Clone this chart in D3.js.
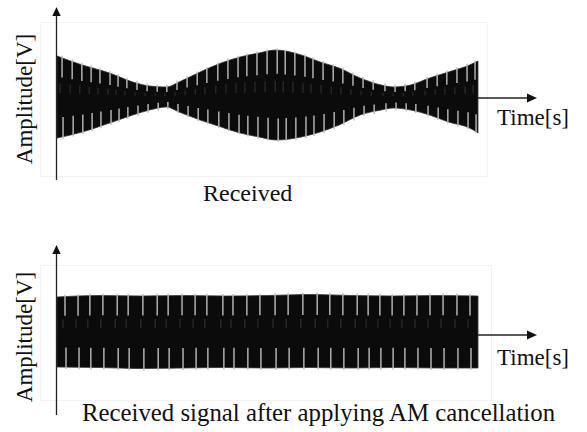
<!DOCTYPE html>
<html>
<head>
<meta charset="utf-8">
<script src="https://cdn.jsdelivr.net/npm/d3@7"></script>
<style>
  body { margin: 0; background: #fff; }
</style>
</head>
<body>
<div id="chart"></div>
<script>
// 1: DATA (time in arbitrary units 0..100)
const yLabel = "Amplitude[V]";
const xLabel = "Time[s]";
const captionTop = "Received";
const captionBottom = "Received signal after applying AM cancellation";

// received signal envelope
const timeTop  = [0, 6, 12.5, 18, 22, 26, 29, 34, 39, 43.5, 48, 52, 58, 62.5, 67, 72, 77, 80, 84, 88.5, 93, 98, 100];
const upperTop = [0.82, 0.64, 0.48, 0.30, 0.22, 0.20, 0.30, 0.50, 0.68, 0.80, 0.88, 0.94, 0.84, 0.70, 0.58, 0.38, 0.24, 0.20, 0.24, 0.38, 0.50, 0.64, 0.72];
const lowerTop = [-0.82, -0.70, -0.52, -0.36, -0.26, -0.20, -0.30, -0.46, -0.60, -0.72, -0.80, -0.86, -0.80, -0.70, -0.56, -0.36, -0.26, -0.22, -0.26, -0.36, -0.50, -0.62, -0.72];

// after AM cancellation
const timeBottom  = [0, 10, 20, 30, 40, 50, 60, 70, 80, 90, 100];
const upperBottom = [0.69, 0.72, 0.71, 0.72, 0.71, 0.72, 0.74, 0.72, 0.71, 0.72, 0.71];
const lowerBottom = [-0.71, -0.72, -0.74, -0.73, -0.72, -0.73, -0.72, -0.73, -0.72, -0.73, -0.73];

// light carrier gaps seen at the edges of the black band
const gapsTop = [1.2, 3.6, 5.9, 8.1, 10.2, 12.6, 14.5, 16.6, 19.0, 21.4, 23.8, 26.1, 28.5, 30.9, 33.3, 35.6, 38.2, 40.6, 43.0, 45.1,
  47.5, 49.9, 52.3, 54.2, 56.5, 58.9, 60.8, 63.2, 65.6, 67.9, 70.3, 72.7, 75.1, 77.9, 80.3, 82.7, 85.0, 87.9, 90.3, 92.6, 95.0, 97.4, 99.3];
const gapsBottom = [1.9, 5.0, 7.8, 10.9, 14.3, 16.9, 20.4, 23.8, 26.4, 29.7, 32.8, 35.6, 39.4, 41.8, 45.1, 48.2, 51.8, 54.9,
  58.4, 61.8, 64.8, 67.9, 71.3, 73.9, 76.7, 79.6, 82.4, 85.5, 88.6, 91.7, 95.0, 98.1];

// 2: SVG
const W = 587, H = 432;
const FONT = "'Liberation Serif', 'Times New Roman', Times, serif";
const svg = d3.select("#chart").append("svg")
  .attr("width", W).attr("height", H);

const x = d3.scaleLinear().domain([0, 100]).range([57, 478]);

function drawPanel(cfg) {
  const g = svg.append("g");
  const y = d3.scaleLinear().domain([-1, 1]).range([cfg.cy + 50, cfg.cy - 50]);

  // faint frame of the original plot
  g.append("rect")
    .attr("x", 40.5).attr("y", cfg.frameTop + 0.5)
    .attr("width", cfg.frameW).attr("height", cfg.frameH)
    .attr("fill", "none").attr("stroke", "#f3f3f3");

  const data = cfg.time.map((t, i) => ({ t, hi: cfg.upper[i], lo: cfg.lower[i] }));

  // time axis (under the signal)
  g.append("line")
    .attr("x1", 57).attr("x2", 530)
    .attr("y1", cfg.axisY).attr("y2", cfg.axisY)
    .attr("stroke", "#222").attr("stroke-width", 1.3);
  g.append("path")
    .attr("d", `M537,${cfg.axisY} L527,${cfg.axisY - 4.5} L527,${cfg.axisY + 4.5} Z`)
    .attr("fill", "#111");

  // black signal band
  const area = d3.area()
    .x(d => x(d.t))
    .y0(d => y(d.lo))
    .y1(d => y(d.hi))
    .curve(d3.curveMonotoneX);

  g.append("path")
    .datum(data)
    .attr("d", area)
    .attr("fill", "#0b0b0b")
    .attr("stroke", "#333")
    .attr("stroke-width", 0.8);

  // carrier gaps
  const hiAt = d3.scaleLinear().domain(cfg.time).range(cfg.upper);
  const loAt = d3.scaleLinear().domain(cfg.time).range(cfg.lower);

  g.selectAll(".gapTop").data(cfg.gaps).join("line")
    .attr("x1", d => x(d)).attr("x2", d => x(d))
    .attr("y1", d => y(hiAt(d)) - 2)
    .attr("y2", d => y(hiAt(d) * cfg.depth))
    .attr("stroke", "#bdbdbd").attr("stroke-width", 1.4);

  g.selectAll(".gapBot").data(cfg.gaps).join("line")
    .attr("x1", d => x(d) + 1).attr("x2", d => x(d) + 1)
    .attr("y1", d => y(loAt(d)) + 2)
    .attr("y2", d => y(loAt(d) * cfg.depth))
    .attr("stroke", "#bdbdbd").attr("stroke-width", 1.4);

  g.selectAll(".gapMid").data(cfg.gaps).join("line")
    .attr("x1", d => x(d) - 2).attr("x2", d => x(d) - 2)
    .attr("y1", d => y(hiAt(d) * 0.35))
    .attr("y2", d => y(hiAt(d) * 0.1))
    .attr("stroke", "#333").attr("stroke-width", 1);

  // amplitude axis
  g.append("line")
    .attr("x1", 56.5).attr("x2", 56.5)
    .attr("y1", cfg.axisBottom).attr("y2", cfg.arrowTip + 7)
    .attr("stroke", "#222").attr("stroke-width", 1.3);
  g.append("path")
    .attr("d", `M56.5,${cfg.arrowTip} L52.3,${cfg.arrowTip + 9} L60.7,${cfg.arrowTip + 9} Z`)
    .attr("fill", "#111");

  // labels
  g.append("text")
    .attr("transform", `translate(32,${cfg.labelY}) rotate(-90)`)
    .attr("text-anchor", "middle")
    .style("font-family", FONT).style("font-size", "23px").style("fill", "#111")
    .text(yLabel);

  g.append("text")
    .attr("x", 497).attr("y", cfg.timeY)
    .style("font-family", FONT).style("font-size", "23px").style("fill", "#111")
    .text(xLabel);

  g.append("text")
    .attr("x", cfg.capX).attr("y", cfg.capY)
    .style("font-family", FONT).style("font-size", cfg.capSize).style("fill", "#111")
    .text(cfg.caption);
}

drawPanel({
  time: timeTop, upper: upperTop, lower: lowerTop, gaps: gapsTop, depth: 0.5,
  cy: 97, axisY: 98, arrowTip: 7, axisBottom: 180,
  frameTop: 22, frameW: 447, frameH: 154,
  labelY: 99, timeY: 125, capX: 203, capY: 201, capSize: "24px", caption: captionTop
});

drawPanel({
  time: timeBottom, upper: upperBottom, lower: lowerBottom, gaps: gapsBottom, depth: 0.45,
  cy: 331.5, axisY: 335, arrowTip: 245, axisBottom: 415,
  frameTop: 265, frameW: 451, frameH: 135,
  labelY: 337, timeY: 365, capX: 82, capY: 421, capSize: "24.8px", caption: captionBottom
});
</script>
</body>
</html>
